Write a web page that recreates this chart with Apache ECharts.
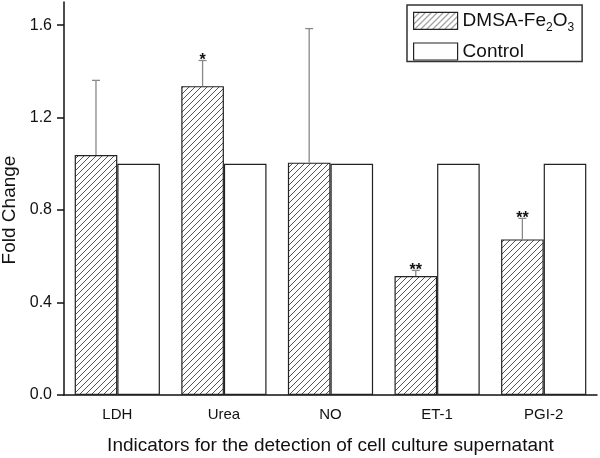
<!DOCTYPE html>
<html>
<head>
<meta charset="utf-8">
<script src="https://cdn.jsdelivr.net/npm/echarts@6/dist/echarts.min.js"></script>
<style>html,body{margin:0;padding:0;background:#fff;}#c{width:600px;height:458px;}</style>
</head>
<body>
<div id="c"></div>
<script>
var categories = ['LDH', 'Urea', 'NO', 'ET-1', 'PGI-2'];
var treatedValues = [1.038, 1.336, 1.005, 0.515, 0.673];
var controlValues = [1, 1, 1, 1, 1];
var errorUpper = [1.361, 1.447, 1.585, 0.539, 0.764];
var significance = ['', '*', '', '**', '**'];
var yTicks = [0, 0.4, 0.8, 1.2, 1.6];

var FONT = '"Liberation Sans", Arial, sans-serif';

function makeHatch() {
  var s = 6;
  var cv = document.createElement('canvas');
  cv.width = s; cv.height = s;
  var ctx = cv.getContext('2d');
  ctx.fillStyle = '#fff';
  ctx.fillRect(0, 0, s, s);
  ctx.strokeStyle = '#555';
  ctx.lineWidth = 1;
  ctx.beginPath();
  ctx.moveTo(-1, s + 1); ctx.lineTo(s + 1, -1);
  ctx.moveTo(-1, 1); ctx.lineTo(1, -1);
  ctx.moveTo(s - 1, s + 1); ctx.lineTo(s + 1, s - 1);
  ctx.stroke();
  return cv;
}
var hatch = { image: makeHatch(), repeat: 'repeat' };

var errData = categories.map(function (c, i) {
  return [i, treatedValues[i], errorUpper[i], significance[i]];
});

var chart = echarts.init(document.getElementById('c'), null, { renderer: 'canvas' });
chart.setOption({
  animation: false,
  backgroundColor: '#fff',
  textStyle: { fontFamily: FONT },
  grid: { left: 64, right: 3, top: 2, bottom: 63, containLabel: false, outerBoundsMode: 'none' },
  legend: {
    left: 407, top: 5,
    orient: 'vertical',
    padding: [6.3, 8, 0.5, 6],
    itemGap: 8.2,
    itemWidth: 44, itemHeight: 17,
    borderColor: '#333', borderWidth: 1.5,
    textStyle: {
      fontFamily: FONT, fontSize: 19, color: '#111',
      rich: {
        m: { fontFamily: FONT, fontSize: 19, color: '#111', lineHeight: 26, verticalAlign: 'middle' },
        s: { fontFamily: FONT, fontSize: 12, color: '#111', lineHeight: 13, verticalAlign: 'bottom' }
      }
    },
    formatter: function (name) {
      if (name === 'DMSA-Fe2O3') return '{m|DMSA-Fe}{s|2}{m|O}{s|3}';
      return '{m|' + name + '}';
    },
    data: [
      { name: 'DMSA-Fe2O3', icon: 'rect', itemStyle: { color: hatch, borderColor: '#222', borderWidth: 1.2 } },
      { name: 'Control', icon: 'rect', itemStyle: { color: '#fff', borderColor: '#222', borderWidth: 1.2 } }
    ]
  },
  xAxis: {
    type: 'category',
    data: categories,
    name: 'Indicators for the detection of cell culture supernatant',
    nameLocation: 'middle',
    nameGap: 41,
    nameTextStyle: { fontFamily: FONT, fontSize: 19, color: '#111' },
    axisLine: { lineStyle: { color: '#111', width: 1.5 } },
    axisTick: { alignWithLabel: true, length: 8, lineStyle: { color: '#111', width: 1.5 } },
    axisLabel: { fontFamily: FONT, fontSize: 15, color: '#111', margin: 12 },
    splitLine: { show: false }
  },
  yAxis: {
    type: 'value',
    min: 0, max: 1.7, interval: 0.4,
    name: 'Fold Change',
    nameLocation: 'middle',
    nameGap: 44,
    nameTextStyle: { fontFamily: FONT, fontSize: 19, color: '#111', padding: [0, 23, 0, 0] },
    axisLine: { show: true, lineStyle: { color: '#111', width: 1.5 } },
    axisTick: { show: true, length: 7, customValues: yTicks, lineStyle: { color: '#111', width: 1.5 } },
    axisLabel: {
      fontFamily: FONT, fontSize: 16, color: '#111', margin: 12, customValues: yTicks,
      formatter: function (v) { return v.toFixed(1); }
    },
    splitLine: { show: false }
  },
  series: [
    {
      name: 'DMSA-Fe2O3', type: 'bar', data: treatedValues,
      barWidth: 42.6, barGap: 0,
      itemStyle: { color: hatch, borderColor: '#222', borderWidth: 1.2 }
    },
    {
      name: 'Control', type: 'bar', data: controlValues,
      barWidth: 42.6, barGap: 0,
      itemStyle: { color: '#fff', borderColor: '#222', borderWidth: 1.2 }
    },
    {
      type: 'custom',
      name: 'err',
      z: 10,
      data: errData,
      encode: { x: 0, y: 2 },
      renderItem: function (params, api) {
        var idx = api.value(0);
        var base = api.coord([idx, api.value(1)]);
        var top = api.coord([idx, api.value(2)]);
        var band = api.size([1, 0])[0];
        var x = base[0] - band * 0.2;
        var cap = 4;
        var star = errData[params.dataIndex][3];
        var children = [
          { type: 'line', shape: { x1: x, y1: base[1], x2: x, y2: top[1] }, style: { stroke: '#888', lineWidth: 1.3 } },
          { type: 'line', shape: { x1: x - cap, y1: top[1], x2: x + cap, y2: top[1] }, style: { stroke: '#888', lineWidth: 1.3 } }
        ];
        if (star) {
          children.push({
            type: 'text',
            style: {
              text: star, x: x, y: top[1] + 8, align: 'center', verticalAlign: 'bottom',
              font: 'bold 16px ' + FONT, fill: '#111'
            }
          });
        }
        return { type: 'group', children: children };
      }
    }
  ]
});
</script>
</body>
</html>
